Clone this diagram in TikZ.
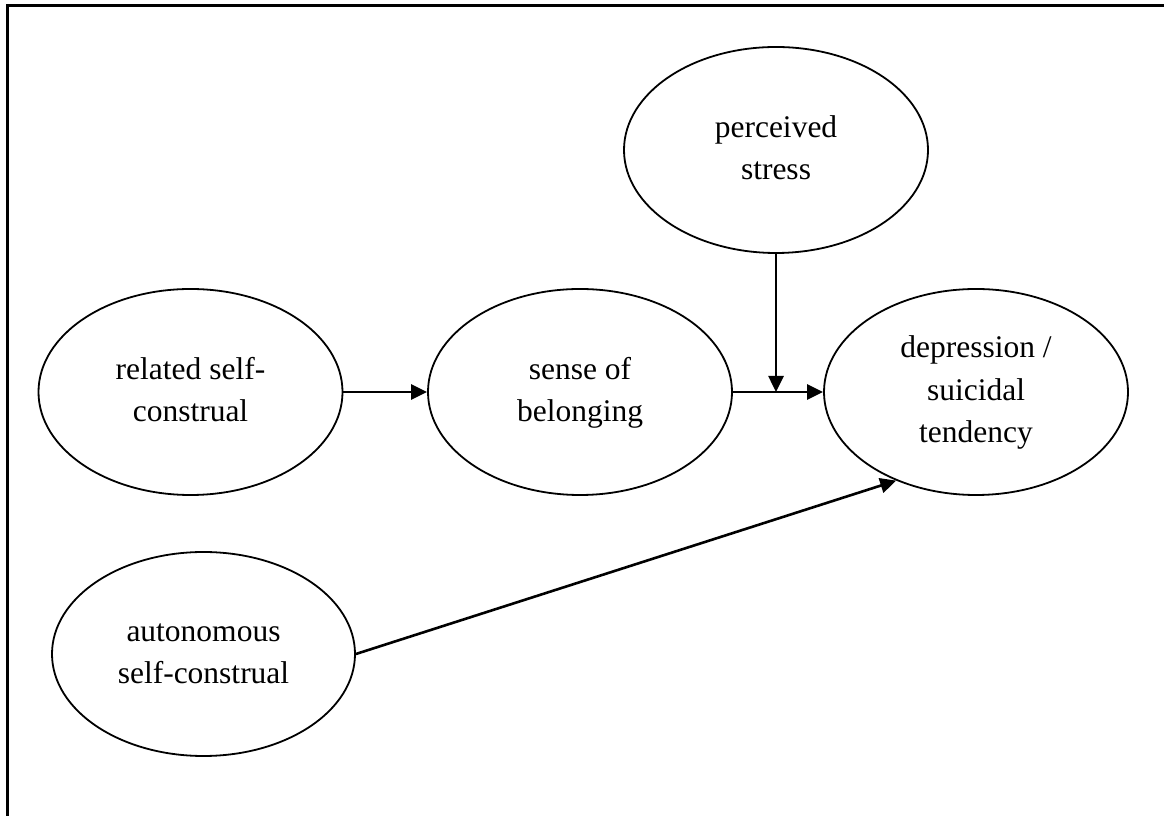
\documentclass[tikz,border=0pt]{standalone}
\usepackage{fontspec}
\setmainfont{Liberation Serif}
\usetikzlibrary{shapes.geometric,arrows.meta}

\tikzset{
  construct/.style={ellipse, draw, line width=1.8pt, inner sep=0pt,
    minimum width=304pt, minimum height=206pt, align=center,
    font=\fontsize{31.5}{42.5}\selectfont},
  path arrow/.style={line width=2.6pt,
    -{Triangle[length=16pt,width=15pt]}},
  frame line/.style={line width=2.2pt, line join=miter}
}

\begin{document}
\begin{tikzpicture}[x=1pt, y=1pt]
  \useasboundingbox (0,0) rectangle (1164,816);

  % frame (top and left edges)
  \draw[frame line] (7.5,0) -- (7.5,810.5) -- (1164,810.5);

  % constructs
  \node[construct] (rel)    at (190.5,424) {\strut related self-\\\strut construal};
  \node[construct] (sense)  at (580,424)   {\strut sense of\\\strut belonging};
  \node[construct] (stress) at (776,666)   {\strut perceived\\\strut stress};
  \node[construct] (dep)    at (976,424)   {\strut depression /\\\strut suicidal\\\strut tendency};
  \node[construct, minimum width=303pt, minimum height=204pt]
                   (auto)   at (203.5,162) {\strut autonomous\\\strut self-construal};

  % paths
  \draw[path arrow] (rel) -- (sense);
  \draw[path arrow] (sense) -- (dep);
  \coordinate (join) at (stress.south |- sense.east);
  \draw[path arrow] (stress.south) -- (join);
  \draw[path arrow] (auto.east) -- (dep.228);
\end{tikzpicture}
\end{document}
